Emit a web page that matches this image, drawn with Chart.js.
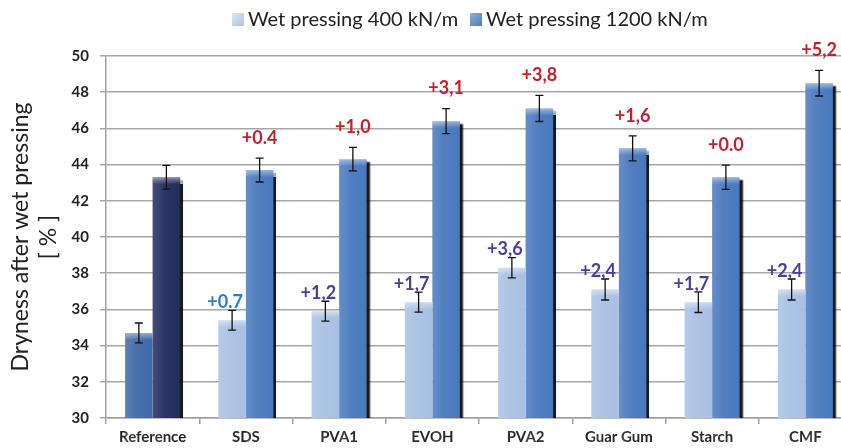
<!DOCTYPE html>
<html>
<head>
<meta charset="utf-8">
<script src="https://cdn.jsdelivr.net/npm/chart.js@4/dist/chart.umd.min.js"></script>
<style>
  html, body { margin: 0; padding: 0; background: #fff; overflow: hidden; }
  #wrap { width: 852px; height: 448px; }
</style>
</head>
<body>
<div id="wrap"><canvas id="c" width="852" height="448"></canvas></div>
<script>
// Categories and measured dryness (%) after wet pressing
const categories = ['Reference', 'SDS', 'PVA1', 'EVOH', 'PVA2', 'Guar Gum', 'Starch', 'CMF'];
const dryness400 = [34.7, 35.4, 35.9, 36.4, 38.3, 37.1, 36.4, 37.1];
const dryness1200 = [43.3, 43.7, 44.3, 46.4, 47.1, 44.9, 43.3, 48.5];
const error400 = [0.55, 0.55, 0.55, 0.55, 0.56, 0.58, 0.57, 0.58];
const error1200 = [0.66, 0.66, 0.65, 0.69, 0.72, 0.69, 0.67, 0.71];
// Gain over the reference, as printed above each bar
const gain400 = [null, '+0.7', '+1,2', '+1,7', '+3,6', '+2,4', '+1,7', '+2,4'];
const gain1200 = [null, '+0.4', '+1,0', '+3,1', '+3,8', '+1,6', '+0.0', '+5,2'];
const yTicks = [30, 32, 34, 36, 38, 40, 42, 44, 46, 48, 50];

const FONT = 'Lato, "Open Sans", sans-serif';
const LIGHT = '#a8c0e3', LIGHT_REF = '#3e69a7';
const DARK = '#4878bd', DARK_REF = '#202b5e';

const colors400 = categories.map((c, i) => i === 0 ? LIGHT_REF : LIGHT);
const colors1200 = categories.map((c, i) => i === 0 ? DARK_REF : DARK);

// Dark drop shadow on the right of the 1200 kN/m bars
const barShadow = {
  id: 'barShadow',
  beforeDatasetDraw(chart, args) {
    const ctx = chart.ctx;
    ctx.save();
    if (args.index === 1) {
      ctx.shadowColor = 'rgba(0,0,0,0.9)';
      ctx.shadowOffsetX = 3;
      ctx.shadowOffsetY = 3;
      ctx.shadowBlur = 1.5;
    }
  },
  afterDatasetDraw(chart) {
    chart.ctx.restore();
  }
};

// Glossy highlight, error bars and gain labels
const barExtras = {
  id: 'barExtras',
  afterDatasetsDraw(chart) {
    const ctx = chart.ctx;
    const ys = chart.scales.y;
    const errs = [error400, error1200];
    const vals = [dryness400, dryness1200];
    const gains = [gain400, gain1200];
    chart.data.datasets.forEach((ds, d) => {
      const meta = chart.getDatasetMeta(d);
      meta.data.forEach((el) => {
        const w = el.width, left = el.x - w / 2, top = el.y, bottom = el.base;
        ctx.save();
        const g = ctx.createLinearGradient(left, 0, left + w, 0);
        g.addColorStop(0, 'rgba(255,255,255,0.16)');
        g.addColorStop(0.4, 'rgba(255,255,255,0.06)');
        g.addColorStop(1, 'rgba(255,255,255,0)');
        ctx.fillStyle = g;
        ctx.fillRect(left, top, w, bottom - top);
        const g2 = ctx.createLinearGradient(0, top, 0, top + 7);
        g2.addColorStop(0, 'rgba(255,255,255,0.45)');
        g2.addColorStop(1, 'rgba(255,255,255,0)');
        ctx.fillStyle = g2;
        ctx.fillRect(left, top, w, 7);
        ctx.restore();
      });
    });
    chart.data.datasets.forEach((ds, d) => {
      const meta = chart.getDatasetMeta(d);
      meta.data.forEach((el, i) => {
        const v = vals[d][i], e = errs[d][i];
        const yHi = ys.getPixelForValue(v + e), yLo = ys.getPixelForValue(v - e);
        ctx.save();
        ctx.strokeStyle = '#111';
        ctx.lineWidth = 1.3;
        ctx.beginPath();
        ctx.moveTo(el.x, yHi); ctx.lineTo(el.x, yLo);
        ctx.moveTo(el.x - 4, yHi); ctx.lineTo(el.x + 4, yHi);
        ctx.moveTo(el.x - 4, yLo); ctx.lineTo(el.x + 4, yLo);
        ctx.stroke();
        ctx.restore();

        const txt = gains[d][i];
        if (txt) {
          ctx.save();
          ctx.font = 'bold 18px ' + FONT;
          ctx.textAlign = 'center';
          ctx.textBaseline = 'middle';
          if (d === 0) {
            ctx.fillStyle = txt === '+0.7' ? '#2c7bc3' : '#4b3d9f';
            ctx.fillText(txt, el.x - 7, yHi - 8);
          } else {
            ctx.fillStyle = '#c8202b';
            ctx.fillText(txt, el.x, yHi - 20);
          }
          ctx.restore();
        }
      });
    });
  }
};

// Legend row above the plot
const topLegend = {
  id: 'topLegend',
  afterDraw(chart) {
    const ctx = chart.ctx;
    const items = [
      { x: 232, color: LIGHT, hi: '#dbe6f5' },
      { x: 470, color: DARK, hi: '#8fb0de' }
    ];
    ctx.save();
    ctx.font = '20px ' + FONT;
    ctx.textBaseline = 'middle';
    items.forEach((it, k) => {
      const g = ctx.createLinearGradient(it.x, 13, it.x + 12, 27);
      g.addColorStop(0, it.hi);
      g.addColorStop(1, it.color);
      ctx.fillStyle = g;
      ctx.fillRect(it.x, 13, 12, 13);
      ctx.fillStyle = '#222';
      ctx.fillText(chart.data.datasets[k].label, it.x + 16, 20);
    });
    ctx.restore();
  }
};

new Chart(document.getElementById('c'), {
  type: 'bar',
  data: {
    labels: categories,
    datasets: [
      { label: 'Wet pressing 400 kN/m', data: dryness400, backgroundColor: colors400,
        categoryPercentage: 0.59, barPercentage: 1.0, borderWidth: 0 },
      { label: 'Wet pressing 1200 kN/m', data: dryness1200, backgroundColor: colors1200,
        categoryPercentage: 0.59, barPercentage: 1.0, borderWidth: 0 }
    ]
  },
  options: {
    responsive: false,
    animation: false,
    layout: { padding: { top: 56, left: 0, right: 0, bottom: 0 } },
    plugins: {
      legend: { display: false },
      tooltip: { enabled: false }
    },
    scales: {
      x: {
        offset: true,
        grid: { drawOnChartArea: false, drawTicks: true, tickLength: 6, color: '#a0a0a0', lineWidth: 1.5 },
        border: { color: '#a0a0a0', width: 1.5 },
        ticks: { font: { family: FONT, size: 15, weight: 'bold' }, color: '#222', padding: 4, maxRotation: 0 },
        afterFit(s) { s.height = 30; }
      },
      y: {
        min: 30, max: 50,
        afterBuildTicks(s) { s.ticks = yTicks.map(v => ({ value: v })); },
        grid: { color: '#a6a6a6', lineWidth: 1.5, tickLength: 6 },
        border: { color: '#a0a0a0', width: 1.5 },
        ticks: { font: { family: FONT, size: 15, weight: 'bold' }, color: '#222', padding: 11 },
        title: {
          display: true,
          text: ['Dryness after wet pressing', '[ % ]'],
          font: { family: FONT, size: 23 },
          color: '#222',
          padding: { top: 7, bottom: 0 }
        },
        afterFit(s) { s.width = 106; }
      }
    }
  },
  plugins: [barShadow, barExtras, topLegend]
});
</script>
</body>
</html>
